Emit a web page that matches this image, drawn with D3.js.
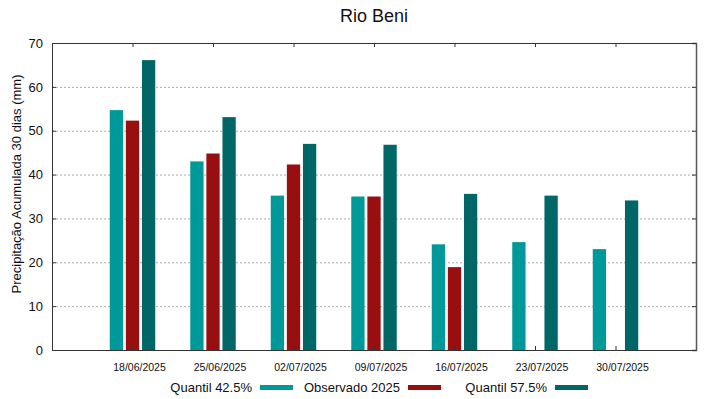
<!DOCTYPE html>
<html>
<head>
<meta charset="utf-8">
<script src="https://cdn.jsdelivr.net/npm/d3@7"></script>
<style>
    body { margin: 0; background: #fff; }
    svg { font-family: "Liberation Sans", Arial, sans-serif; }
    .grid line { stroke: #aaa; stroke-dasharray: 2,2; }
</style>
</head>
<body>
<div class="chart"></div>
<script>
// weekly dates
const dates = ["18/06/2025", "25/06/2025", "02/07/2025", "09/07/2025", "16/07/2025", "23/07/2025", "30/07/2025"];

const quantil425 = [54.7, 43.0, 35.2, 35.0, 24.1, 24.6, 23.0];
const observado2025 = [52.3, 44.8, 42.3, 35.0, 18.9, null, null];
const quantil575 = [66.1, 53.1, 47.0, 46.8, 35.6, 35.2, 34.1];

const seriesNames = ["Quantil 42.5%", "Observado 2025", "Quantil 57.5%"];
const seriesColors = ["#009999", "#990f0f", "#006666"];
const yTicks = [0, 10, 20, 30, 40, 50, 60, 70];

BarChart(".chart");

function BarChart(container) {

    const margin = ({top: 43, right: 23, bottom: 49, left: 52})

    const width = 719 - margin.left - margin.right,
    height = 399 - margin.top - margin.bottom;

    const root = d3.select(container)
        .append("svg")
        .attr("width", 719)
        .attr("height", 399);

    const svg = root.append("g")
        .attr("transform", "translate(" + margin.left + "," + margin.top + ")");

    // scales: categories sit at 1..7 on a 0..8 axis
    const xScale = d3.scaleLinear()
        .domain([0, dates.length + 1])
        .range([0, width])

    const yScale = d3.scaleLinear()
        .domain([0, 70])
        .range([height, 0])

    // dotted grid
    svg.append("g")
        .attr("class", "grid")
        .selectAll("line")
        .data(yTicks.filter(d => d > 0 && d < 70))
        .join("line")
        .attr("x1", 0)
        .attr("x2", width)
        .attr("y1", d => yScale(d) + 0.5)
        .attr("y2", d => yScale(d) + 0.5);

    // bars
    const series = [quantil425, observado2025, quantil575];
    const barW = 0.165, step = 0.2;

    series.forEach(function(values, s) {
        svg.append("g")
            .selectAll("rect")
            .data(values.map((v, i) => ({i: i, v: v})).filter(d => d.v != null))
            .join("rect")
            .attr("x", d => xScale(d.i + 1 + (s - 1) * step - barW / 2))
            .attr("width", xScale(barW) - xScale(0))
            .attr("y", d => yScale(d.v))
            .attr("height", d => yScale(0) - yScale(d.v))
            .attr("fill", seriesColors[s]);
    });

    // axes (inward ticks, mirrored)
    const tickIdx = d3.range(1, dates.length + 1);

    svg.append("g")
        .attr("transform", "translate(0," + height + ")")
        .call(d3.axisBottom(xScale).tickValues(tickIdx).tickSize(-4).tickFormat(""))
        .call(g => g.select(".domain").attr("stroke", "#333"))
        .call(g => g.selectAll(".tick line").attr("stroke", "#333"));

    svg.append("g")
        .call(d3.axisTop(xScale).tickValues(tickIdx).tickSize(-4).tickFormat(""))
        .call(g => g.select(".domain").attr("stroke", "#333"))
        .call(g => g.selectAll(".tick line").attr("stroke", "#333"));

    svg.append("g")
        .call(d3.axisLeft(yScale).tickValues(yTicks).tickSize(-4).tickPadding(9))
        .call(g => g.select(".domain").attr("stroke", "#333"))
        .call(g => g.selectAll(".tick line").attr("stroke", "#333"))
        .call(g => g.selectAll("text").attr("font-size", 13).attr("fill", "#111")
            .attr("font-family", "Liberation Sans, Arial, sans-serif"));

    svg.append("g")
        .attr("transform", "translate(" + width + ",0)")
        .call(d3.axisRight(yScale).tickValues(yTicks).tickSize(-4).tickFormat(""))
        .call(g => g.select(".domain").attr("stroke", "#555").attr("stroke-width", 1.5))
        .call(g => g.selectAll(".tick line").attr("stroke", "#333"));

    // x tick labels
    svg.append("g")
        .selectAll("text")
        .data(dates)
        .join("text")
        .attr("x", (d, i) => xScale(i + 1) + 7)
        .attr("y", height + 21)
        .attr("text-anchor", "middle")
        .attr("font-size", 10.5)
        .attr("fill", "#111")
        .text(d => d);

    // title and y label
    root.append("text")
        .attr("x", 374)
        .attr("y", 22)
        .attr("text-anchor", "middle")
        .attr("font-size", 18)
        .attr("fill", "#111")
        .text("Rio Beni");

    root.append("text")
        .attr("transform", "translate(21,184) rotate(-90)")
        .attr("text-anchor", "middle")
        .attr("font-size", 13)
        .attr("fill", "#111")
        .text("Precipitação Acumulada 30 dias (mm)");

    // legend
    const legendX = [260, 408, 555];
    const legend = root.append("g")
        .selectAll("g")
        .data(seriesNames)
        .join("g");

    legend.append("text")
        .attr("x", (d, i) => legendX[i] - 8)
        .attr("y", 391.5)
        .attr("text-anchor", "end")
        .attr("font-size", 13)
        .attr("fill", "#111")
        .text(d => d);

    legend.append("rect")
        .attr("x", (d, i) => legendX[i])
        .attr("y", 385)
        .attr("width", 33)
        .attr("height", 5)
        .attr("fill", (d, i) => seriesColors[i]);
}
</script>
</body>
</html>
